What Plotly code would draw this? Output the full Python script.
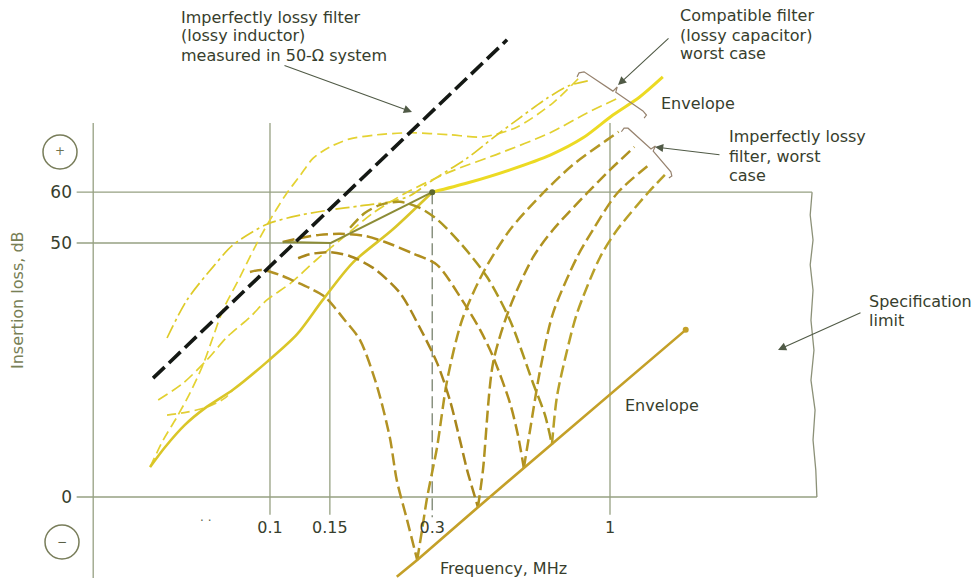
import plotly.graph_objects as go

W, H = 974, 578
FONT = "DejaVu Sans"
TEXT = "rgb(55,62,45)"
GRID = "rgb(150,160,130)"

# ---- readings: frequency in MHz, insertion loss in dB ----
freq_ticks = [0.1, 0.15, 0.3, 1]
freq_tick_text = ["0.1", "0.15", "0.3", "1"]
db_ticks = [0, 50, 60]
db_tick_text = ["0", "50", "60"]

# imperfectly lossy filter (lossy inductor) in a 50-ohm system
inductor_f = [0.0453, 0.498]
inductor_db = [23.4, 90.0]

# envelope of the notches
notch_env_f = [0.236, 0.271, 0.409, 0.558, 0.675, 1.67]
notch_env_db = [-15.7, -12.4, -2.0, 5.7, 10.3, 32.9]

# envelope of the arch peaks
peak_env_f = [0.109, 0.151, 0.3]
peak_env_db = [50.2, 50.0, 60.0]

# imperfectly lossy filter family: falling branch into the notch, rising branch out of it
fall1_f = [0.0873, 0.0947, 0.107, 0.116, 0.131, 0.145, 0.166, 0.184, 0.206, 0.225, 0.236, 0.253, 0.271]
fall1_db = [44.3, 44.7, 43.7, 42.7, 41.1, 39.4, 34.8, 30.9, 22.0, 11.8, 3.3, -4.5, -12.4]
rise1_f = [0.271, 0.280, 0.290, 0.310, 0.332, 0.367, 0.423, 0.508, 0.635, 0.778, 0.980, 1.06]
rise1_db = [-12.4, -6.5, 0.0, 9.8, 23.0, 34.8, 44.1, 52.6, 59.8, 65.4, 70.3, 71.9]

fall2_f = [0.121, 0.131, 0.150, 0.172, 0.201, 0.241, 0.276, 0.310, 0.338, 0.362, 0.380, 0.409]
fall2_db = [47.0, 47.8, 48.2, 47.4, 45.1, 40.2, 33.3, 26.4, 19.1, 11.2, 5.3, -2.0]
rise2_f = [0.409, 0.423, 0.453, 0.508, 0.594, 0.680, 0.856, 1.0, 1.18]
rise2_db = [-2.0, 5.3, 26.4, 37.4, 47.2, 52.6, 59.8, 64.4, 68.9]

fall3_f = [0.109, 0.123, 0.140, 0.161, 0.190, 0.218, 0.262, 0.310, 0.367, 0.415, 0.453, 0.508, 0.536, 0.558]
fall3_db = [50.2, 51.0, 51.6, 51.8, 51.4, 50.2, 48.0, 45.7, 38.8, 32.9, 27.6, 18.5, 12.2, 5.7]
rise3_f = [0.558, 0.582, 0.623, 0.680, 0.800, 0.891, 1.05, 1.32]
rise3_db = [5.7, 13.2, 25.0, 36.2, 47.2, 52.6, 59.8, 65.7]

fall4_f = [0.172, 0.190, 0.211, 0.241, 0.276, 0.312, 0.367, 0.435, 0.508, 0.594, 0.644, 0.675]
fall4_db = [53.0, 55.9, 57.5, 58.1, 56.9, 54.5, 49.6, 43.3, 34.8, 22.4, 16.1, 10.3]
rise4_f = [0.675, 0.698, 0.748, 0.800, 0.935, 1.05, 1.29, 1.45]
rise4_db = [10.3, 19.7, 28.9, 36.2, 47.2, 52.6, 59.8, 63.4]

# compatible filter (lossy capacitor) family
cap_solid_f = [0.0444, 0.0491, 0.0562, 0.0644, 0.0778, 0.0980, 0.120, 0.143, 0.175, 0.229, 0.300]
cap_solid_db = [5.9, 9.8, 14.2, 17.5, 21.1, 26.6, 32.0, 38.8, 46.1, 52.6, 60.0]
cap_env_f = [0.300, 0.380, 0.508, 0.667, 0.833, 1.02, 1.22, 1.43]
cap_env_db = [60.0, 61.8, 64.4, 67.3, 70.7, 75.2, 78.7, 82.7]

cap_short_f = [0.0498, 0.0570, 0.0653, 0.0738, 0.0778]
cap_short_db = [16.1, 16.7, 17.7, 19.5, 21.1]

cap_a_f = [0.0444, 0.0485, 0.0532, 0.0582, 0.0635, 0.0680, 0.0727, 0.0816, 0.0903, 0.0987,
           0.111, 0.123, 0.134, 0.150, 0.172, 0.206, 0.258, 0.338, 0.423, 0.532, 0.680, 0.816]
cap_a_db = [5.9, 11.2, 15.7, 20.5, 26.0, 31.5, 36.8, 43.3, 49.2, 53.9,
            59.4, 63.4, 66.7, 68.9, 70.5, 71.3, 71.7, 71.3, 70.9, 72.8, 77.6, 82.7]

cap_b_f = [0.0498, 0.0570, 0.0680, 0.0778, 0.0980, 0.123, 0.150, 0.184, 0.225, 0.258,
           0.301, 0.380, 0.453, 0.532, 0.653, 0.760, 0.873]
cap_b_db = [31.3, 38.8, 45.3, 49.6, 53.7, 55.5, 56.5, 57.3, 58.1, 59.3,
            62.4, 66.7, 70.7, 74.2, 78.5, 81.0, 82.0]

cap_c_f = [0.0469, 0.0555, 0.0653, 0.0748, 0.0873, 0.0980, 0.115, 0.137, 0.161, 0.201,
           0.253, 0.338, 0.475, 0.667, 0.856, 1.07]
cap_c_db = [19.1, 22.4, 27.0, 31.5, 35.4, 38.8, 42.1, 46.7, 50.6, 55.9,
            60.0, 64.0, 67.7, 71.7, 75.6, 78.7]

# frame: axis, grid lines and the specification limit box
axis_f = 0.0302
stub_f = 0.0270
grid_top_db = 73.6
grid_low_db = -3.5
axis_low_db = -16.0
limit_db = 60
limit_edge_f = [3.93, 3.88, 3.955, 3.88, 3.955, 3.90, 3.98, 3.90, 4.01, 3.955, 4.03, 4.06]
limit_edge_db = [60.0, 55.5, 50.6, 45.7, 40.7, 34.8, 28.9, 23.0, 17.1, 11.2, 5.3, 0.0]

# brackets grouping the curve ends
bracket_cap_f = [0.80, 0.811, 0.839, 1.02, 1.05, 1.04, 1.25, 1.28, 1.26]
bracket_cap_db = [82.7, 83.5, 83.7, 79.9, 80.7, 79.7, 76.0, 75.2, 74.6]
bracket_ind_f = [1.08, 1.10, 1.13, 1.32, 1.36, 1.34, 1.51, 1.52, 1.49]
bracket_ind_db = [71.9, 72.6, 72.6, 68.5, 69.1, 68.1, 64.0, 63.2, 62.8]

fig = go.Figure()


def line(x, y, color, width=2.0, dash="solid", smooth=True):
    fig.add_trace(go.Scatter(
        x=x, y=y, mode="lines", hoverinfo="skip",
        line=dict(color=color, width=width, dash=dash,
                  shape="spline" if smooth else "linear", smoothing=0.8)))


# grid and frame
line([axis_f, axis_f], [grid_top_db, axis_low_db], GRID, 1.3, smooth=False)
line([0.1, 0.1], [grid_top_db, grid_low_db], GRID, 1.3, smooth=False)
line([1, 1], [grid_top_db, grid_low_db], GRID, 1.3, smooth=False)
line([0.15, 0.15], [50, grid_low_db], GRID, 1.3, smooth=False)
line([0.3, 0.3], [60, grid_low_db - 0.5], "rgb(120,130,110)", 1.3, "12px,5px", smooth=False)
line([stub_f, 0.15], [50, 50], GRID, 1.3, smooth=False)
line([stub_f, limit_edge_f[0]], [limit_db, limit_db], GRID, 1.3, smooth=False)
line([stub_f, limit_edge_f[-1]], [0, 0], GRID, 1.3, smooth=False)
line(limit_edge_f, limit_edge_db, "rgb(140,145,120)", 1.3, smooth=False)

# compatible filter family
line(cap_a_f, cap_a_db, "rgb(228,210,50)", 1.7, "10px,5px")
line(cap_b_f, cap_b_db, "rgb(222,202,40)", 1.7, "14px,4px,3px,4px")
line(cap_c_f, cap_c_db, "rgb(226,208,48)", 1.7, "11px,5px")
line(cap_short_f, cap_short_db, "rgb(226,206,55)", 1.7, "9px,5px")
line(cap_solid_f, cap_solid_db, "rgb(218,198,40)", 2.6)
line(cap_env_f, cap_env_db, "rgb(236,218,35)", 3.0)

# imperfectly lossy filter family
olive = ["rgb(178,146,36)", "rgb(168,134,28)", "rgb(176,142,30)", "rgb(172,150,32)"]
rise_col = ["rgb(180,152,36)", "rgb(176,146,32)", "rgb(180,150,34)", "rgb(184,160,40)"]
falls = [(fall1_f, fall1_db), (fall2_f, fall2_db), (fall3_f, fall3_db), (fall4_f, fall4_db)]
rises = [(rise1_f, rise1_db), (rise2_f, rise2_db), (rise3_f, rise3_db), (rise4_f, rise4_db)]
for i in range(4):
    line(*falls[i], olive[i], 2.5, "12px,5px")
    line(*rises[i], rise_col[i], 2.5, "12px,5px")

line(peak_env_f, peak_env_db, "rgb(140,140,55)", 2.0, smooth=False)
fig.add_trace(go.Scatter(x=[peak_env_f[-1]], y=[peak_env_db[-1]], mode="markers", hoverinfo="skip",
                         marker=dict(size=6, color="rgb(95,105,45)")))

line(notch_env_f, notch_env_db, "rgb(196,160,40)", 2.6, smooth=False)
fig.add_trace(go.Scatter(x=[notch_env_f[-1]], y=[notch_env_db[-1]], mode="markers", hoverinfo="skip",
                         marker=dict(size=6, color="rgb(196,160,40)")))

# lossy inductor filter
line(inductor_f, inductor_db, "rgb(20,24,20)", 3.6, "16px,6px", smooth=False)

# brackets
line(bracket_cap_f, bracket_cap_db, "rgb(150,130,110)", 1.2, smooth=False)
line(bracket_ind_f, bracket_ind_db, "rgb(150,130,110)", 1.2, smooth=False)


def paper(px, py):
    return px / W, 1 - py / H


def label(text, px, py, anchor="left", size=16, color=TEXT, angle=0):
    x, y = paper(px, py)
    fig.add_annotation(text=text, x=x, y=y, xref="paper", yref="paper",
                       xanchor=anchor, yanchor="middle", showarrow=False,
                       textangle=angle, font=dict(family=FONT, size=size, color=color))


def pointer(head, tail):
    x, y = paper(*head)
    fig.add_annotation(text="", x=x, y=y, xref="paper", yref="paper",
                       ax=tail[0] - head[0], ay=tail[1] - head[1],
                       showarrow=True, arrowhead=2, arrowsize=1.5, arrowwidth=1.1,
                       arrowcolor="rgb(80,90,70)")


for i, t in enumerate(["Imperfectly lossy filter", "(lossy inductor)", "measured in 50-\u03a9 system"]):
    label(t, 179, 17 + 19 * i)
for i, t in enumerate(["Compatible filter", "(lossy capacitor)", "worst case"]):
    label(t, 678, 16 + 19 * i)
label("Envelope", 659, 104)
for i, t in enumerate(["Imperfectly lossy", "filter, worst", "case"]):
    label(t, 727, 137 + 19 * i)
label("Specification", 867, 301)
label("limit", 867, 320)
label("Envelope", 623, 405)
label("Frequency, MHz", 503, 568, anchor="center")
label("Insertion loss, dB", 17, 300, anchor="center", color="rgb(120,128,85)", angle=-90)
label("\u00b7 \u00b7", 205, 521, anchor="center", size=12, color="rgb(90,100,80)")
label("+", 60, 151, anchor="center", size=12, color="rgb(110,115,80)")
label("\u2212", 62, 542, anchor="center", size=12, color="rgb(90,95,70)")

pointer((412, 112), (283, 65))
pointer((618, 85), (670, 37))
pointer((655, 147), (721, 155))
pointer((778, 350), (862, 312))

for cx, cy in [(60, 152), (62, 542)]:
    x0, y1 = paper(cx - 17, cy - 17)
    x1, y0 = paper(cx + 17, cy + 17)
    fig.add_shape(type="circle", xref="paper", yref="paper", x0=x0, x1=x1, y0=y0, y1=y1,
                  line=dict(color="rgb(120,125,90)", width=1.5))

fig.update_layout(
    width=W, height=H, margin=dict(l=0, r=0, t=0, b=0),
    paper_bgcolor="white", plot_bgcolor="white", showlegend=False,
    xaxis=dict(type="log", range=[-1.7941, 1.0706], anchor="free", position=81 / H,
               tickvals=freq_ticks, ticktext=freq_tick_text, ticks="", showgrid=False,
               showline=False, zeroline=False, automargin=False, ticklabelstandoff=19,
               tickfont=dict(family=FONT, size=16, color=TEXT)),
    yaxis=dict(range=[-15.945, 97.835], anchor="free", position=93 / W,
               tickvals=db_ticks, ticktext=db_tick_text, ticks="", showgrid=False,
               showline=False, zeroline=False, automargin=False, ticklabelstandoff=21,
               tickfont=dict(family=FONT, size=17, color=TEXT)),
)

fig.write_html("out.html")
